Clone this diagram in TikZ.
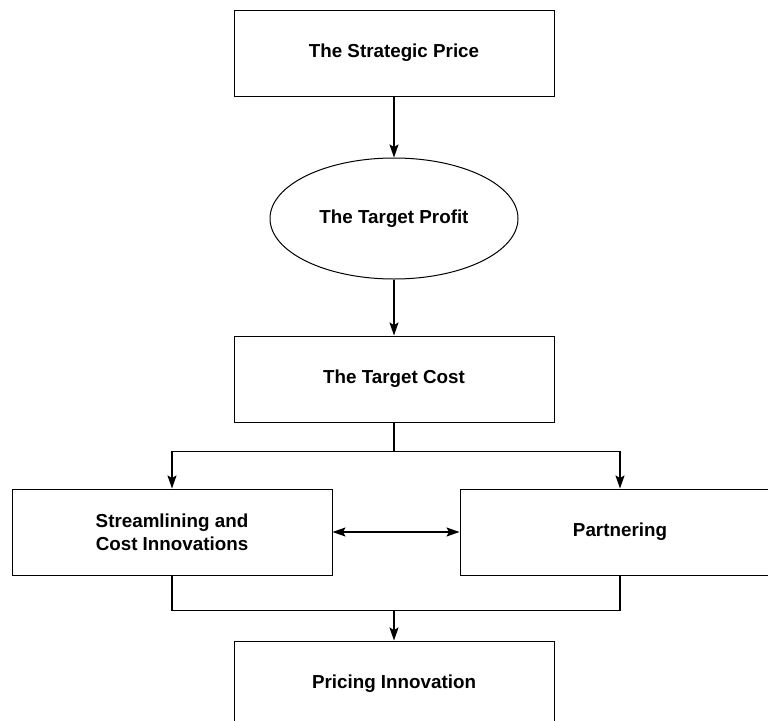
\documentclass[tikz,border=0pt]{standalone}
\usepackage{fontspec}
\setmainfont{Liberation Sans}
\usetikzlibrary{positioning,arrows.meta,shapes.geometric}

\begin{document}
\begin{tikzpicture}[x=1pt,y=1pt,>={Stealth[length=13pt,width=9pt,inset=2.5pt]},
  line width=1pt,node distance=60pt,
  box node/.style={rectangle,draw,minimum width=320pt,minimum height=86pt,inner sep=0pt,
    align=center,font=\fontsize{18.8}{23}\selectfont\bfseries},
  oval node/.style={ellipse,draw,minimum width=248pt,minimum height=121pt,inner sep=0pt,
    font=\fontsize{18.8}{23}\selectfont\bfseries},
  link/.style={line width=1.5pt}]

  \useasboundingbox (0,0) rectangle (768,-720);

  \node[box node] (1) at (394,-53) {The Strategic Price};
  \node[oval node] (2) [below=61pt of 1] {The Target Profit};
  \node[box node] (3) [below=56pt of 2] {The Target Cost};
  \node[box node] (4) [below=66pt of 3,xshift=-222pt] {Streamlining and\\Cost Innovations};
  \node[box node] (5) [right=127pt of 4] {Partnering};
  \node[box node] (6) [below=65pt of 4,xshift=222pt] {Pricing Innovation};

  \coordinate[below=29pt of 3] (split);
  \coordinate[above=30pt of 6] (join);

  \path[link,->]
     (1) edge (2)
     (2) edge (3)
     (4) edge[<->] (5)
     (join) edge (6);
  \draw[link] (3) -- (split);
  \draw[link,->] (split) -| (4);
  \draw[link,->] (split) -| (5);
  \draw[link] (4) |- (join) -| (5);
\end{tikzpicture}
\end{document}
